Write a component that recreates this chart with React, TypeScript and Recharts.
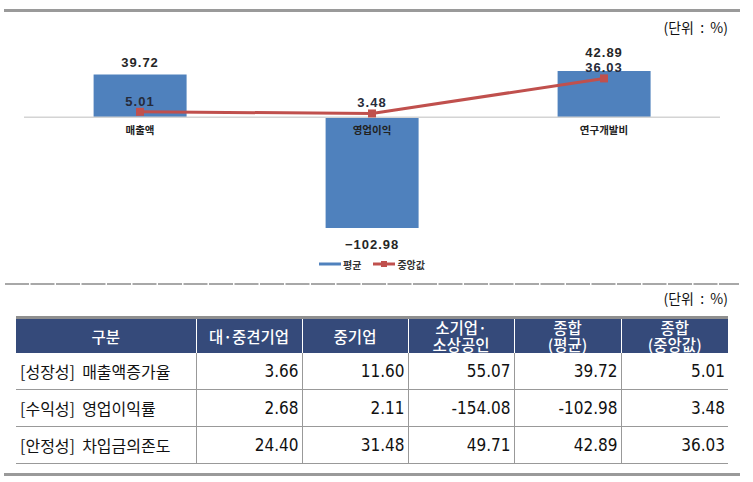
import React from "react";
import {
  ComposedChart,
  Bar,
  Line,
  XAxis,
  YAxis,
  ReferenceLine,
  ReferenceDot,
  LabelList,
  Legend,
} from "recharts";

// chart values
const categories = ["매출액", "영업이익", "연구개발비"];
const meanValues = [39.72, -102.98, 42.89];
const medianValues = [5.01, 3.48, 36.03];
const legendOrder = ["평균", "중앙값"];

// table values
const tableHeaders = ["구분", "대·중견기업", "중기업", "소기업·\n소상공인", "종합\n(평균)", "종합\n(중앙값)"];
const rowLabels = ["[성장성]  매출액증가율", "[수익성]  영업이익률", "[안정성]  차입금의존도"];
const largeMidValues = [3.66, 2.68, 24.4];
const mediumValues = [11.6, 2.11, 31.48];
const smallValues = [55.07, -154.08, 49.71];
const totalMeanValues = [39.72, -102.98, 42.89];
const totalMedianValues = [5.01, 3.48, 36.03];

const chartData = categories.map((name, i) => ({
  name,
  mean: meanValues[i],
  median: medianValues[i],
}));

const tableColumns = [largeMidValues, mediumValues, smallValues, totalMeanValues, totalMedianValues];

const BAR_BLUE = "#4F81BD";
const LINE_RED = "#C0504D";
const NUM_FONT = "'Liberation Sans', Arial, sans-serif";
const KR_FONT = "'Noto Sans CJK KR', 'Liberation Sans', sans-serif";
const TABLE_FONT = "'Liberation Sans Narrow', 'DejaVu Sans Condensed', 'Noto Sans CJK KR', sans-serif";

const BarValueLabel = (props: any) => {
  const { x, y, width, height, value, index } = props;
  const top = Math.min(y, y + height);
  const bottom = Math.max(y, y + height);
  let ty;
  if (value < 0) {
    ty = bottom + 21;
  } else {
    // push up when the median label sits close to the bar top
    const pxPerUnit = Math.abs(height) / Math.abs(value);
    const gap = (value - medianValues[index]) * pxPerUnit;
    ty = top - (gap < 25 ? 14 : 7);
  }
  return (
    <text
      x={x + width / 2}
      y={ty}
      textAnchor="middle"
      fontFamily={NUM_FONT}
      fontWeight={700}
      fontSize={13}
      letterSpacing={1}
      fill="#262626"
    >
      {value < 0 ? "\u2212" + Math.abs(value).toFixed(2) : value.toFixed(2)}
    </text>
  );
};

const LineValueLabel = (props: any) => {
  const { x, y, value } = props;
  return (
    <text
      x={x}
      y={y - 6}
      textAnchor="middle"
      fontFamily={NUM_FONT}
      fontWeight={700}
      fontSize={13}
      letterSpacing={1}
      fill="#262b3a"
    >
      {value.toFixed(2)}
    </text>
  );
};

const SquareDot = (props: any) => {
  const { cx, cy } = props;
  return <rect x={cx - 4} y={cy - 4} width={8} height={8} fill={LINE_RED} />;
};

const LegendContent = (props: any) => {
  const items = [...(props.payload || [])].sort(
    (a: any, b: any) => legendOrder.indexOf(a.value) - legendOrder.indexOf(b.value)
  );
  return (
    <div
      style={{
        height: 39,
        paddingTop: 15,
        boxSizing: "border-box",
        display: "flex",
        justifyContent: "center",
        alignItems: "flex-start",
        gap: 12,
        fontFamily: KR_FONT,
        fontSize: 10,
        fontWeight: 700,
        color: "#333",
      }}
    >
      {items.map((entry: any) => (
        <div key={entry.value} style={{ display: "flex", alignItems: "center", height: 16 }}>
          <svg width={22} height={10} style={{ marginRight: 2 }}>
            <line x1={0} y1={5} x2={22} y2={5} stroke={entry.color} strokeWidth={3} />
            {entry.type === "square" && <rect x={8} y={2} width={6} height={6} fill={entry.color} />}
          </svg>
          <span>{entry.value}</span>
        </div>
      ))}
    </div>
  );
};

const unitStyle: React.CSSProperties = {
  position: "absolute",
  right: 25,
  fontFamily: KR_FONT,
  fontSize: 14,
  color: "#111",
  lineHeight: "16px",
  whiteSpace: "pre",
};

const fmt = (v: number) => v.toFixed(2);

export default function App() {
  const colWidths = [180, 106, 106, 106, 107, 107];
  return (
    <div style={{ position: "relative", width: 753, height: 482, background: "#fff", overflow: "hidden" }}>
      <style>{`body{margin:0}`}</style>
      <div style={{ position: "absolute", left: 4, top: 9, width: 736, height: 3, background: "#9a9a9a" }} />
      <div style={{ ...unitStyle, top: 19 }}>(단위  :  %)</div>

      <div style={{ position: "absolute", left: 0, top: 0 }}>
        <ComposedChart
          width={753}
          height={280}
          data={chartData}
          margin={{ top: 58, right: 33, left: 24, bottom: 0 }}
          barCategoryGap="30%"
        >
          <XAxis dataKey="name" hide />
          <YAxis type="number" domain={[-115, 55]} hide />
          <ReferenceLine y={0} stroke="#d4d4d4" strokeWidth={1.5} />
          <Bar
            dataKey="mean"
            name="평균"
            fill={BAR_BLUE}
            legendType="line"
            isAnimationActive={false}
          >
            <LabelList dataKey="mean" content={BarValueLabel} />
          </Bar>
          <Line
            dataKey="median"
            name="중앙값"
            stroke={LINE_RED}
            strokeWidth={3}
            legendType="square"
            dot={SquareDot}
            activeDot={false}
            isAnimationActive={false}
          >
            <LabelList dataKey="median" content={LineValueLabel} />
          </Line>
          {categories.map((c) => (
            <ReferenceDot
              key={c}
              x={c}
              y={0}
              r={0}
              fill="none"
              stroke="none"
              label={{
                value: c,
                position: "bottom",
                offset: 9,
                fontSize: 10.5,
                fontWeight: 700,
                fontFamily: KR_FONT,
                fill: "#222",
              }}
            />
          ))}
          <Legend verticalAlign="bottom" content={LegendContent} />
        </ComposedChart>
      </div>

      <svg style={{ position: "absolute", left: 0, top: 282 }} width={753} height={4}>
        <line x1={5} y1={2} x2={739} y2={2} stroke="#8c8c8c" strokeWidth={1.5} strokeDasharray="24 1.5" />
      </svg>
      <div style={{ ...unitStyle, top: 290 }}>(단위  :  %)</div>

      <table
        style={{
          position: "absolute",
          left: 16,
          top: 316,
          width: 712,
          borderCollapse: "collapse",
          tableLayout: "fixed",
          borderTop: "3px solid #8f8f8f",
          fontFamily: TABLE_FONT,
        }}
      >
        <colgroup>
          {colWidths.map((w, i) => (
            <col key={i} style={{ width: w }} />
          ))}
        </colgroup>
        <thead>
          <tr style={{ height: 35 }}>
            {tableHeaders.map((h, i) => (
              <th
                key={i}
                style={{
                  background: "#354A7A",
                  color: "#fff",
                  fontFamily: KR_FONT,
                  fontSize: 15.5,
                  fontWeight: 500,
                  lineHeight: "16.5px",
                  padding: 0,
                  whiteSpace: "pre-line",
                  borderLeft: i > 0 ? "1px solid #fff" : "none",
                  textAlign: "center",
                }}
              >
                {h}
              </th>
            ))}
          </tr>
        </thead>
        <tbody>
          {rowLabels.map((label, r) => (
            <tr key={r} style={{ height: 37 }}>
              <td
                style={{
                  fontFamily: KR_FONT,
                  fontSize: 16,
                  padding: "0 0 0 4px",
                  whiteSpace: "pre",
                  color: "#111",
                  borderBottom: "1px solid #999",
                }}
              >
                {label}
              </td>
              {tableColumns.map((col, c) => (
                <td
                  key={c}
                  style={{
                    fontSize: 17,
                    textAlign: "right",
                    padding: "0 3px 0 0",
                    color: "#111",
                    borderLeft: "1px solid #999",
                    borderBottom: "1px solid #999",
                  }}
                >
                  {fmt(col[r])}
                </td>
              ))}
            </tr>
          ))}
        </tbody>
      </table>

      <div style={{ position: "absolute", left: 4, top: 473, width: 736, height: 3, background: "#9a9a9a" }} />
    </div>
  );
}
